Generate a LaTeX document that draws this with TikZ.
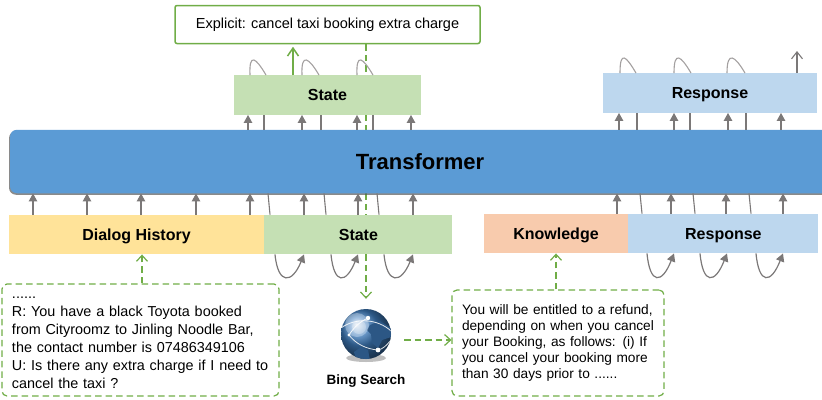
\documentclass[tikz,border=0pt]{standalone}
\usepackage{fontspec}
\setmainfont{Liberation Sans}
\usetikzlibrary{positioning,arrows.meta,shadows,backgrounds}

\definecolor{statecol}{HTML}{C5E0B4}
\definecolor{respcol}{HTML}{BDD7EE}
\definecolor{dialogcol}{HTML}{FFE399}
\definecolor{knowcol}{HTML}{F8CBAD}
\definecolor{transcol}{HTML}{5B9BD5}
\definecolor{greencol}{HTML}{70AD47}
\definecolor{graycol}{HTML}{7B7878}
\definecolor{globecol}{HTML}{3F7DBE}

\begin{document}
\begin{tikzpicture}[
        x=1pt, y=-1pt,
        block/.style={rectangle, inner sep=0pt, font=\fontsize{16}{18}\selectfont\bfseries, text height=11.5pt, text depth=0pt, minimum height=39.5pt},
        textbox/.style={rectangle, draw=greencol, line width=1.2pt, dashed, dash pattern=on 6.5pt off 4pt, rounded corners=5pt, inner ysep=0pt, inner xsep=10pt, align=left},
        gedge/.style={draw=greencol, line width=1.2pt, dashed, dash pattern=on 6.5pt off 4pt},
        garrow/.style={gedge, -{Straight Barb[length=6pt,width=11pt]}},
        flow/.style={draw=graycol, line width=1.2pt, -{Triangle[length=8pt,width=8.5pt]}},
        plainline/.style={draw=graycol, line width=1.1pt},
        hop/.style={draw=graycol!70, line width=1.1pt}
    ]
    \useasboundingbox (0,0) rectangle (822,399);

    % Blocks
    \node[rectangle, fill=transcol, rounded corners=7pt, inner sep=0pt, minimum width=830pt, minimum height=63.5pt, drop shadow={shadow xshift=-1pt, shadow yshift=-1.5pt, fill=black!65, opacity=0.7}] (transformer) at (425,161.5) {};
    \node[font=\fontsize{22}{24}\selectfont\bfseries] (transformerlabel) at (420,161.5) {Transformer};
    \node[block, fill=statecol, minimum width=187pt] (statetop) at (327.5,95) {State};
    \node[block, fill=respcol, minimum width=214pt] (resptop) at (710,93) {Response};
    \node[block, fill=dialogcol, minimum width=255pt] (dialog) at (136.5,234.5) {Dialog History};
    \node[block, fill=statecol, minimum width=188pt, right=0pt of dialog] (statelow) {State};
    \node[block, fill=knowcol, minimum width=144pt] (know) at (556,233.5) {Knowledge};
    \node[block, fill=respcol, minimum width=190pt, right=0pt of know] (resplow) {Response};

    % Text boxes
    \node[rectangle, draw=greencol, line width=1.5pt, rounded corners=2pt, inner sep=0pt, minimum width=305pt, minimum height=38pt, font=\fontsize{14.5}{17}\selectfont] (explicit) at (327.5,24.5) {Explicit: cancel taxi booking extra charge};
    \node[textbox, text width=257pt, minimum height=112pt, font=\fontsize{14.4}{18}\selectfont] (history) at (140.5,340) {\rule{0pt}{6.5pt}......\\R: You have a black Toyota booked\\from Cityroomz to Jinling Noodle Bar,\\the contact number is 07486349106\\U: Is there any extra charge if I need to\\cancel the taxi ?};
    \node[textbox, text width=192pt, minimum height=106pt, font=\fontsize{13.7}{16.2}\selectfont] (passage) at (558,343) {You will be entitled to a refund,\\depending on when you cancel\\your Booking, as follows: (i) If\\you cancel your booking more\\than 30 days prior to ......};

    % Search
    \fill[black!25] (366,358) ellipse (20 and 4);
    \node[circle, minimum size=50pt, inner sep=0pt, shading=ball, ball color=globecol] (bing) at (366,334) {};
    \begin{scope}[shift={(bing.center)}]
        \clip (0,0) circle (25);
        \fill[black!30!globecol] (4,-9) -- (14,-13) -- (25,-6) -- (25,3) -- (16,6) -- (12,14) -- (6,9) -- (5,0) -- (1,-4) -- cycle;
        \fill[black!30!globecol] (-12,18) -- (-5,13) -- (2,16) -- (4,26) -- (-10,26) -- cycle;
        \fill[white, opacity=0.3] (-9,-9) circle (12);
        \fill[white, opacity=0.25] (-7,-7) circle (7);
        \draw[white, line width=0.8pt, opacity=0.85] (-25,-6) .. controls (-10,-17) and (12,-15) .. (25,-3);
        \draw[white, line width=0.8pt, opacity=0.85] (-17,1) .. controls (-10,10) and (0,15) .. (12,16) .. controls (17,15) and (21,11) .. (24,7);
        \draw[white, line width=0.8pt, opacity=0.85] (-17,1) .. controls (-12,-7) and (-5,-13) .. (2,-16);
        \fill[white] (12,16) circle (2.4);
        \fill[white] (-17,1) circle (1.6);
        \fill[white] (2,-16) circle (2.2);
    \end{scope}
    \node[font=\fontsize{13.5}{15}\selectfont\bfseries, below=12pt of bing] (binglabel) {Bing Search};

    % Relationships
    \begin{scope}[on background layer]
        \draw[gedge] (bing.north |- explicit.south) -- (bing.north |- statetop.north);
        \draw[gedge] (bing.north |- statetop.south) -- (bing.north |- transformer.north);
        \draw[gedge] (bing.north |- transformer.south) -- (bing.north |- statelow.north);
        \draw[garrow] (bing.north |- statelow.south) -- ([yshift=10pt]bing.north);
    \end{scope}
    \draw[draw=greencol, line width=1.5pt, shorten >=2.5pt, -{Straight Barb[length=8pt,width=11pt]}] (statetop.north -| 293,0) -- (explicit.south -| 293,0);
    \draw[garrow] (history.north -| 142,0) -- (dialog.south -| 142,0);
    \draw[garrow] (passage.north -| know.south) -- (know.south);
    \draw[garrow] (404,340) -- (passage.west |- 0,340);

    % Into the transformer
    \foreach \x in {33,87,141,196,250}
        \draw[flow] (dialog.north -| \x,0) -- (transformer.south -| \x,0);
    \foreach \x in {304,358,413}
        \draw[flow] (statelow.north -| \x,0) -- (transformer.south -| \x,0);
    \draw[flow] (know.north -| 617,0) -- (transformer.south -| 617,0);
    \foreach \x in {671,726,783}
        \draw[flow] (resplow.north -| \x,0) -- (transformer.south -| \x,0);

    % Out of the transformer
    \foreach \x in {248,302,357,411}
        \draw[flow] (transformer.north -| \x,0) -- (statetop.south -| \x,0);
    \foreach \x in {264,321,373}
        \draw[plainline] (transformer.north -| \x,0) -- (statetop.south -| \x,0);
    \foreach \x in {619,674,728,781}
        \draw[flow] (transformer.north -| \x,0) -- (resptop.south -| \x,0);
    \foreach \x in {637,690,746}
        \draw[plainline] (transformer.north -| \x,0) -- (resptop.south -| \x,0);

    % Loops above
    \foreach \x/\y in {250/266,302/319,357/373}
        \draw[hop] (statetop.north -| \x,0) .. controls (\x-1,52) and (\y-10,58) .. (statetop.north -| \y,0);
    \foreach \x/\y in {620/636,674/691,727/745}
        \draw[hop] (resptop.north -| \x,0) .. controls (\x,50) and (\y-10,56) .. (resptop.north -| \y,0);
    \draw[draw=graycol, line width=1.1pt, -{Straight Barb[length=7pt,width=11pt]}] (resptop.north -| 797,0) -- (797,51);

    % Loops below
    \foreach \x in {268,324,377}
        \draw[plainline] (transformer.south -| \x,0) -- (statelow.north -| \x+2,0);
    \foreach \x/\y in {275/304,331/358,384/413}
        \draw[flow] (statelow.south -| \x,0) .. controls (\x+3,285) and (\y-12,284) .. (statelow.south -| \y,0);
    \foreach \x in {640,693,749}
        \draw[plainline] (transformer.south -| \x,0) -- (resplow.north -| \x+2,0);
    \foreach \x/\y in {647/674,700/727,756/783}
        \draw[flow] (resplow.south -| \x,0) .. controls (\x+3,285) and (\y-12,284) .. (resplow.south -| \y,0);
\end{tikzpicture}
\end{document}
